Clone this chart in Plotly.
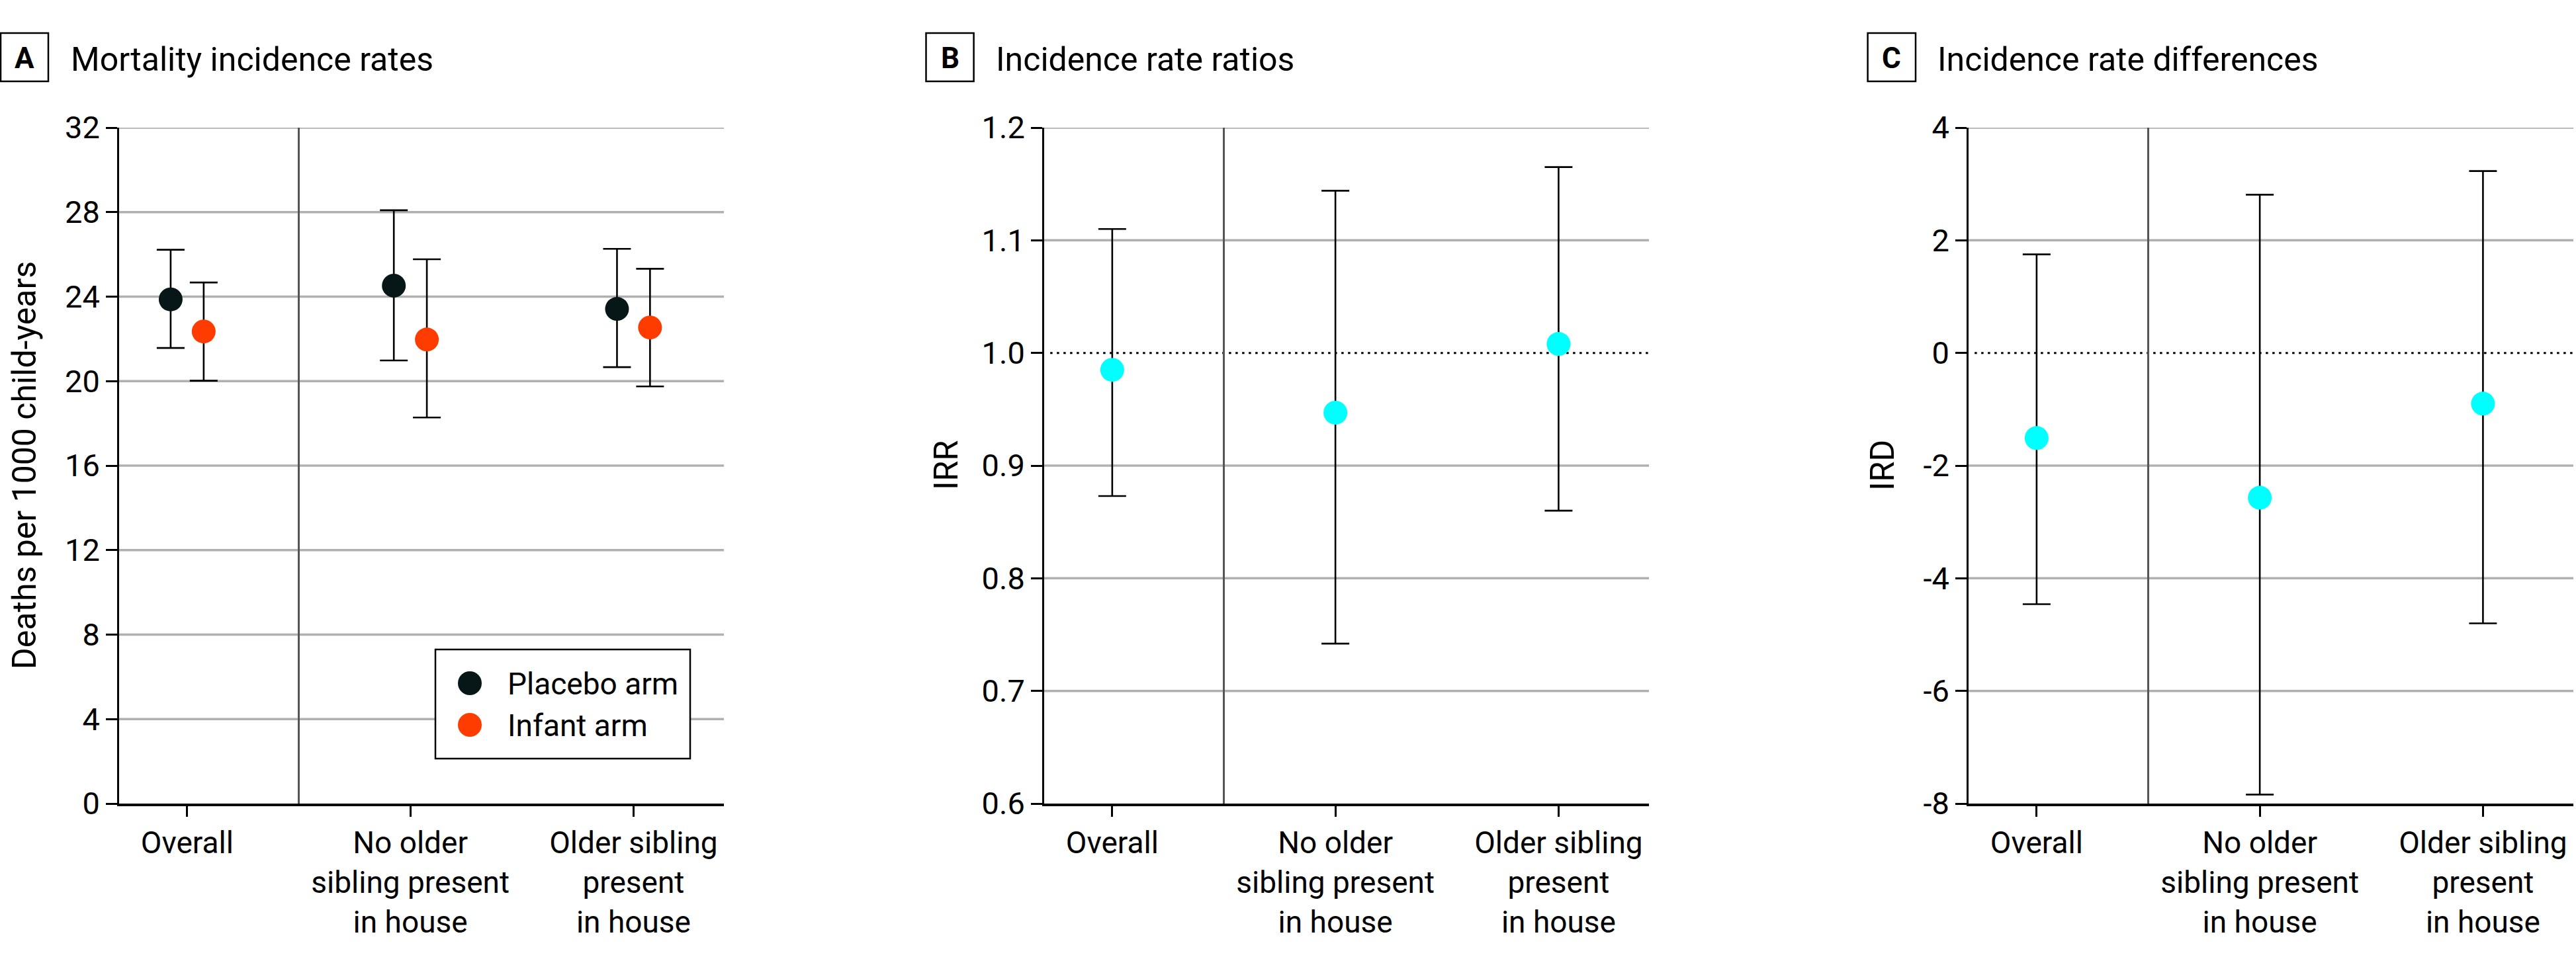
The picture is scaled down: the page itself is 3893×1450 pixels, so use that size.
import plotly.graph_objects as go

# ---------------- data ----------------
categories = ["Overall", "No older<br>sibling present<br>in house", "Older sibling<br>present<br>in house"]
arm_names = ["Placebo arm", "Infant arm"]

placebo_rate = [23.87, 24.52, 23.42]
placebo_low = [21.57, 20.98, 20.66]
placebo_high = [26.22, 28.09, 26.26]

infant_rate = [22.35, 21.97, 22.54]
infant_low = [20.02, 18.28, 19.75]
infant_high = [24.67, 25.77, 25.32]

irr = [0.985, 0.947, 1.008]
irr_low = [0.873, 0.742, 0.860]
irr_high = [1.110, 1.144, 1.165]

ird = [-1.51, -2.57, -0.90]
ird_low = [-4.46, -7.84, -4.80]
ird_high = [1.75, 2.81, 3.23]

a_ticks = [0, 4, 8, 12, 16, 20, 24, 28, 32]
a_ticktext = ["0", "4", "8", "12", "16", "20", "24", "28", "32"]
b_ticks = [0.6, 0.7, 0.8, 0.9, 1.0, 1.1, 1.2]
b_ticktext = ["0.6", "0.7", "0.8", "0.9", "1.0", "1.1", "1.2"]
c_ticks = [-8, -6, -4, -2, 0, 2, 4]
c_ticktext = ["-8", "-6", "-4", "-2", "0", "2", "4"]

panel_letters = ["A", "B", "C"]
panel_titles = ["Mortality incidence rates", "Incidence rate ratios", "Incidence rate differences"]
y_titles = ["Deaths per 1000 child-years", "IRR", "IRD"]
ref_b = 1.0
ref_c = 0.0
divider_at = 0.5
arm_offset = 0.074

# ---------------- styling ----------------
W, H = 3893, 1450
FONT = "Roboto"
C_PLACEBO = "#071616"
C_INFANT = "#ff3c00"
C_RATIO = "#00ffff"
GRID = "#b0b0b0"

def px(x):
    return x / W

def py(y):
    return 1 - y / H

y_dom = [py(1215), py(193)]
x_doms = [[px(180), px(1094)], [px(1578), px(2492)], [px(2975), px(3889)]]
xrange_ = [-0.305, 2.405]

fig = go.Figure()

pos = list(range(len(categories)))

def err(vals, lo, hi):
    return dict(type="data", symmetric=False,
                array=[h - v for v, h in zip(vals, hi)],
                arrayminus=[v - l for v, l in zip(vals, lo)],
                color="black", thickness=2.6, width=21)

MS = 36
# Panel A
fig.add_trace(go.Scatter(
    x=[p - arm_offset for p in pos], y=placebo_rate, mode="markers", name=arm_names[0],
    marker=dict(size=MS, color=C_PLACEBO), error_y=err(placebo_rate, placebo_low, placebo_high),
    xaxis="x", yaxis="y", showlegend=False))
fig.add_trace(go.Scatter(
    x=[p + arm_offset for p in pos], y=infant_rate, mode="markers", name=arm_names[1],
    marker=dict(size=MS, color=C_INFANT), error_y=err(infant_rate, infant_low, infant_high),
    xaxis="x", yaxis="y", showlegend=False))
# Panel B
fig.add_trace(go.Scatter(
    x=pos, y=irr, mode="markers", name="IRR",
    marker=dict(size=MS, color=C_RATIO), error_y=err(irr, irr_low, irr_high),
    xaxis="x2", yaxis="y2", showlegend=False))
# Panel C
fig.add_trace(go.Scatter(
    x=pos, y=ird, mode="markers", name="IRD",
    marker=dict(size=MS, color=C_RATIO), error_y=err(ird, ird_low, ird_high),
    xaxis="x3", yaxis="y3", showlegend=False))

def xaxis(dom, anchor):
    return dict(domain=dom, anchor=anchor, range=xrange_, tickmode="array",
                tickvals=pos, ticktext=categories, showgrid=False, zeroline=False,
                showline=True, linecolor="black", linewidth=3.5, automargin=False,
                ticks="outside", ticklen=16, tickwidth=2.5, tickcolor="black",
                tickfont=dict(family=FONT, size=46, color="black"), fixedrange=True)

def yaxis(anchor, rng, tv, tt):
    return dict(domain=y_dom, anchor=anchor, range=rng, tickmode="array",
                tickvals=tv, ticktext=tt, showgrid=False, zeroline=False,
                showline=True, linecolor="black", linewidth=2.5, automargin=False,
                ticks="outside", ticklen=17, tickwidth=2.5, tickcolor="black",
                tickfont=dict(family=FONT, size=47, color="black"), fixedrange=True)

fig.update_layout(
    template="none",
    width=W, height=H, margin=dict(l=0, r=0, t=0, b=0, autoexpand=False),
    paper_bgcolor="white", plot_bgcolor="white",
    font=dict(family=FONT, color="black"),
    xaxis=xaxis(x_doms[0], "y"), yaxis=yaxis("x", [0, 32], a_ticks, a_ticktext),
    xaxis2=xaxis(x_doms[1], "y2"), yaxis2=yaxis("x2", [0.6, 1.2], b_ticks, b_ticktext),
    xaxis3=xaxis(x_doms[2], "y3"), yaxis3=yaxis("x3", [-8, 4], c_ticks, c_ticktext),
    showlegend=False,
)

shapes = []
# gridlines (skip reference lines)
for xr, yr, ticks, ref in [("x", "y", a_ticks, None), ("x2", "y2", b_ticks, ref_b), ("x3", "y3", c_ticks, ref_c)]:
    for t in ticks[1:]:
        if ref is not None and abs(t - ref) < 1e-9:
            continue
        shapes.append(dict(type="line", xref=xr + " domain", yref=yr, x0=0, x1=1, y0=t, y1=t,
                           line=dict(color=GRID, width=3.5), layer="below"))
# reference dotted lines
for xr, yr, ref in [("x2", "y2", ref_b), ("x3", "y3", ref_c)]:
    shapes.append(dict(type="line", xref=xr + " domain", yref=yr, x0=0.01, x1=1, y0=ref, y1=ref,
                       line=dict(color="black", width=3, dash="3.5px,6.5px"), layer="below"))
# vertical dividers
for xr, yr in [("x", "y"), ("x2", "y2"), ("x3", "y3")]:
    shapes.append(dict(type="line", xref=xr, yref=yr + " domain", x0=divider_at, x1=divider_at, y0=0, y1=1,
                       line=dict(color="#555555", width=3), layer="below"))

# panel letter boxes
box_x = [(1, 73), (1399.5, 1471.6), (2822.6, 2895)]
for (x0, x1) in box_x:
    shapes.append(dict(type="rect", xref="paper", yref="paper", x0=px(x0), x1=px(x1), y0=py(123), y1=py(50),
                       line=dict(color="black", width=2.5), fillcolor="rgba(0,0,0,0)"))

# custom legend box
shapes.append(dict(type="rect", xref="paper", yref="paper", x0=px(658), x1=px(1043), y0=py(1147), y1=py(982),
                   fillcolor="white", line=dict(color="black", width=2.5), layer="above"))
for i, col in enumerate([C_PLACEBO, C_INFANT]):
    yc = 1033 + 63 * i
    shapes.append(dict(type="circle", xref="paper", yref="paper", xsizemode="pixel", ysizemode="pixel",
                       xanchor=px(710), yanchor=py(yc), x0=-18, x1=18, y0=-18, y1=18,
                       fillcolor=col, line=dict(width=0), layer="above"))

annotations = []
for i, name in enumerate(arm_names):
    yc = 1033 + 63 * i
    annotations.append(dict(text=name, xref="paper", yref="paper", x=px(765), y=py(yc + 1),
                            xanchor="left", yanchor="middle", showarrow=False,
                            font=dict(family=FONT, size=46, color="black")))

title_x = [105, 1503, 2926]
for i in range(3):
    cx = (box_x[i][0] + box_x[i][1]) / 2
    annotations.append(dict(text="<b>%s</b>" % panel_letters[i], xref="paper", yref="paper",
                            x=px(cx), y=py(88), xanchor="center", yanchor="middle",
                            showarrow=False, font=dict(family=FONT, size=44, color="black")))
    annotations.append(dict(text=panel_titles[i], xref="paper", yref="paper",
                            x=px(title_x[i]), y=py(90), xanchor="left", yanchor="middle",
                            showarrow=False, font=dict(family=FONT, size=50, color="black")))

ytitle_x = [37, 1430, 2845]
for i in range(3):
    annotations.append(dict(text=y_titles[i], xref="paper", yref="paper",
                            x=px(ytitle_x[i]), y=py(704), xanchor="center", yanchor="middle",
                            textangle=-90, showarrow=False,
                            font=dict(family=FONT, size=50, color="black")))

fig.update_layout(shapes=shapes, annotations=annotations)

fig.write_html("out.html", post_script="document.body.style.margin='0';",
               config={"displayModeBar": False})
